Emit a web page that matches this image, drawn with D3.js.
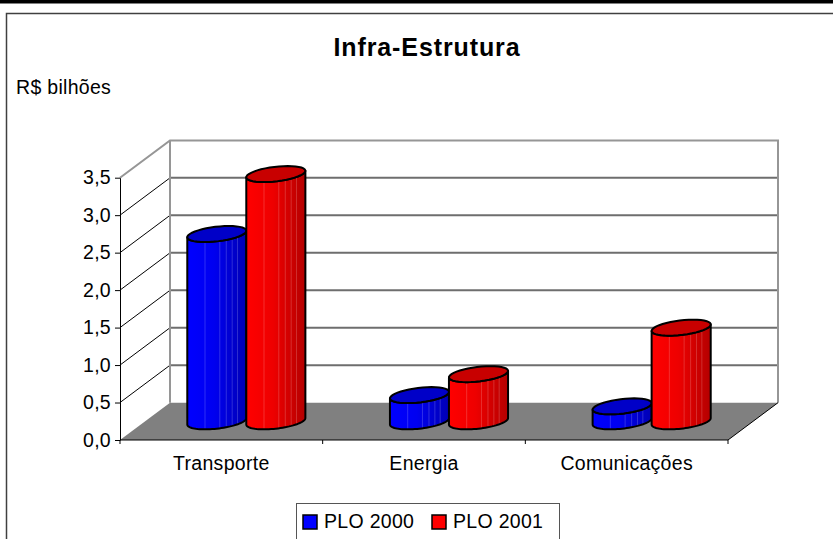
<!DOCTYPE html>
<html>
<head>
<meta charset="utf-8">
<script src="https://cdn.jsdelivr.net/npm/d3@7"></script>
<style>
  body { margin: 0; background: #fff; }
  svg { display: block; font-family: "Liberation Sans", Arial, sans-serif; }
</style>
</head>
<body>
<svg id="chart"></svg>
<script>
// values (R$ bilhões)
var categories = ["Transporte", "Energia", "Comunicações"];
var seriesNames = ["PLO 2000", "PLO 2001"];
var plo2000 = [2.5, 0.35, 0.2];
var plo2001 = [3.3, 0.63, 1.25];
var yTicks = [0, 0.5, 1, 1.5, 2, 2.5, 3, 3.5];

var width = 833;
var height = 539;
var fs = 19.5, ls = 0.3;

var svg = d3.select("#chart")
    .attr("width", width)
    .attr("height", height);

var defs = svg.append("defs");

// top black band and chart frame
svg.append("rect").attr("x", 0).attr("y", 0).attr("width", width).attr("height", 3.5).attr("fill", "#000");
svg.append("rect")
    .attr("x", 6.5).attr("y", 13.5)
    .attr("width", 900).attr("height", 600)
    .attr("fill", "none").attr("stroke", "#404040").attr("stroke-width", 1.5);

var x0 = d3.scaleBand().domain(categories).range([120, 728]);
var x1 = d3.scaleBand().domain(seriesNames).range([-59, 59]);
var y = d3.scaleLinear().domain([0, 3.5]).range([440, 177.7]);
var dx = 50, dy = -37.3;
var xLeft = x0.range()[0], xRight = x0.range()[1];

// walls
svg.append("polygon")
    .attr("points", [[xLeft, y(0)], [xLeft + dx, y(0) + dy], [xLeft + dx, y(3.5) + dy], [xLeft, y(3.5)]].join(" "))
    .attr("fill", "#fff");
svg.append("rect")
    .attr("x", xLeft + dx).attr("y", y(3.5) + dy)
    .attr("width", xRight - xLeft).attr("height", y(0) - y(3.5))
    .attr("fill", "#fff");

// back gridlines
svg.selectAll(".grid-back")
    .data(yTicks.filter(function(t) { return t > 0 && t < 3.5; }))
    .enter().append("line")
    .attr("x1", xLeft + dx).attr("x2", xRight + dx)
    .attr("y1", function(d) { return y(d) + dy; })
    .attr("y2", function(d) { return y(d) + dy; })
    .attr("stroke", "#6e6e6e").attr("stroke-width", 2);

// side gridlines
svg.selectAll(".grid-side")
    .data(yTicks.filter(function(t) { return t > 0 && t < 3.5; }))
    .enter().append("line")
    .attr("x1", xLeft).attr("x2", xLeft + dx)
    .attr("y1", function(d) { return y(d); })
    .attr("y2", function(d) { return y(d) + dy; })
    .attr("stroke", "#000").attr("stroke-width", 1);

// wall edges
svg.append("path")
    .attr("d", "M" + xLeft + "," + y(3.5) +
        "L" + (xLeft + dx) + "," + (y(3.5) + dy) +
        "L" + (xRight + dx) + "," + (y(3.5) + dy) +
        "L" + (xRight + dx) + "," + (y(0) + dy) +
        "M" + (xLeft + dx) + "," + (y(3.5) + dy) +
        "L" + (xLeft + dx) + "," + (y(0) + dy))
    .attr("fill", "none").attr("stroke", "#969696").attr("stroke-width", 2);

// floor
svg.append("polygon")
    .attr("points", [[xLeft, y(0)], [xRight, y(0)], [xRight + dx, y(0) + dy], [xLeft + dx, y(0) + dy]].join(" "))
    .attr("fill", "#808080");
svg.append("path")
    .attr("d", "M" + xLeft + "," + y(0) + "L" + xRight + "," + y(0) + "L" + (xRight + dx) + "," + (y(0) + dy))
    .attr("fill", "none").attr("stroke", "#000").attr("stroke-width", 1);

// y axis
var yAxis = d3.axisLeft(y)
    .tickValues(yTicks)
    .tickSize(5)
    .tickSizeOuter(0)
    .tickPadding(4)
    .tickFormat(function(d) { return d3.format(".1f")(d).replace(".", ","); });
var gy = svg.append("g").attr("transform", "translate(" + xLeft + ",0)").call(yAxis);
gy.selectAll("text").attr("font-size", fs).attr("letter-spacing", ls).attr("fill", "#000").attr("font-family", null);
gy.selectAll("line, path").attr("stroke", "#000");

// x axis: labels at centres, ticks at category borders
var xAxis = d3.axisBottom(x0).tickSize(0).tickPadding(16);
var gx = svg.append("g").attr("transform", "translate(0," + y(0) + ")").call(xAxis);
gx.select(".domain").remove();
gx.selectAll("text").attr("font-size", fs).attr("letter-spacing", ls).attr("fill", "#000").attr("font-family", null);
var borders = categories.map(function(c) { return x0(c); }).concat([xRight]);
gx.selectAll(".border-tick")
    .data(borders)
    .enter().append("line")
    .attr("x1", function(d) { return d; }).attr("x2", function(d) { return d; })
    .attr("y1", 0).attr("y2", 4)
    .attr("stroke", "#000");

// cylinder gradients
var grads = [
    {id: "g0", stops: [["0%", "#0000ff"], ["45%", "#0000f0"], ["100%", "#0000b4"]], top: "#0000c8"},
    {id: "g1", stops: [["0%", "#ff0000"], ["45%", "#ee0000"], ["100%", "#b40000"]], top: "#c80000"}
];
grads.forEach(function(g) {
    var lg = defs.append("linearGradient").attr("id", g.id)
        .attr("x1", "0%").attr("x2", "100%").attr("y1", "0%").attr("y2", "0%");
    g.stops.forEach(function(s) {
        lg.append("stop").attr("offset", s[0]).attr("stop-color", s[1]);
    });
});

var bars = [];
categories.forEach(function(c, i) {
    bars.push({cat: c, s: 0, value: plo2000[i]});
    bars.push({cat: c, s: 1, value: plo2001[i]});
});

var r = 27, a = 12, b = 8;
var th0 = Math.atan2(a, r);
function ellPt(cx, cy, t) {
    return [cx + r * Math.cos(t) + a * Math.sin(t), cy - b * Math.sin(t)];
}
function arc(cx, cy, t1, t2) {
    var pts = [];
    for (var k = 0; k <= 40; k++) {
        pts.push(ellPt(cx, cy, t1 + (t2 - t1) * k / 40));
    }
    return pts;
}
var line = d3.line();
var stripes = [0.3, 0.55, 0.66, 0.76, 0.85];

bars.forEach(function(d, i) {
    var cx = x0(d.cat) + x0.bandwidth() / 2 + x1(seriesNames[d.s]) + x1.bandwidth() / 2 + dx / 2;
    var baseY = y(0) + dy / 2;
    var topY = y(d.value) + dy / 2;
    var front = arc(cx, baseY, th0 + Math.PI, th0 + 2 * Math.PI);
    var topFront = arc(cx, topY, th0 + 2 * Math.PI, th0 + Math.PI);
    var body = front.concat(topFront);
    var g = svg.append("g");

    defs.append("clipPath").attr("id", "clip" + i)
        .append("path").attr("d", line(body) + "Z");

    g.append("path")
        .attr("d", line(body) + "Z")
        .attr("fill", "url(#" + grads[d.s].id + ")");
    var w = 2 * Math.sqrt(r * r + a * a);
    g.append("g").attr("clip-path", "url(#clip" + i + ")")
        .selectAll("line")
        .data(stripes)
        .enter().append("line")
        .attr("x1", function(f) { return cx - w / 2 + f * w; })
        .attr("x2", function(f) { return cx - w / 2 + f * w; })
        .attr("y1", topY - 20).attr("y2", baseY + 20)
        .attr("stroke", "#fff").attr("stroke-opacity", 0.18).attr("stroke-width", 1);
    g.append("path")
        .attr("d", line(body) + "Z")
        .attr("fill", "none")
        .attr("stroke", "#000").attr("stroke-width", 2).attr("stroke-linejoin", "round");
    g.append("path")
        .attr("d", line(arc(cx, topY, 0, 2 * Math.PI)) + "Z")
        .attr("fill", grads[d.s].top)
        .attr("stroke", "#000").attr("stroke-width", 2);
});

// titles
svg.append("text")
    .attr("x", 427).attr("y", 56)
    .attr("text-anchor", "middle")
    .attr("font-size", 25).attr("font-weight", "bold").attr("letter-spacing", 0.9)
    .text("Infra-Estrutura");
svg.append("text")
    .attr("x", 16).attr("y", 94)
    .attr("font-size", fs).attr("letter-spacing", ls)
    .text("R$ bilhões");

// legend
var legend = svg.append("g");
legend.append("rect")
    .attr("x", 296.5).attr("y", 503.5).attr("width", 263).attr("height", 60)
    .attr("fill", "#fff").attr("stroke", "#555").attr("stroke-width", 1);
var legX = [303, 432];
seriesNames.forEach(function(s, i) {
    legend.append("rect")
        .attr("x", legX[i]).attr("y", 515).attr("width", 14).attr("height", 14)
        .attr("fill", i == 0 ? "#0000ff" : "#ff0000")
        .attr("stroke", "#000").attr("stroke-width", 1.5);
    legend.append("text")
        .attr("x", legX[i] + 21).attr("y", 528)
        .attr("font-size", fs).attr("letter-spacing", ls)
        .text(s);
});
</script>
</body>
</html>
